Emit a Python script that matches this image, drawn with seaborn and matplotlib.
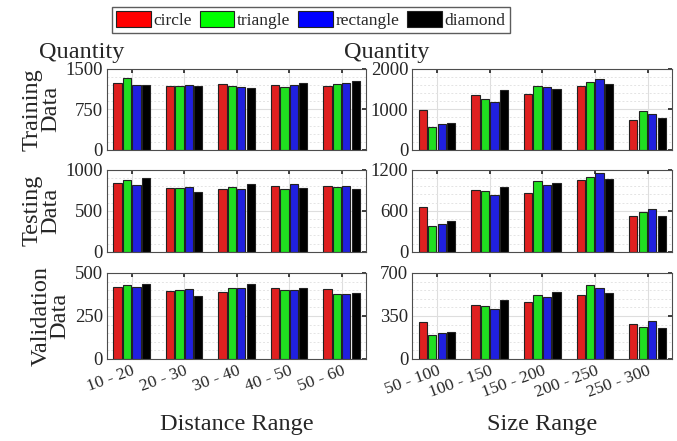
import pandas as pd
import matplotlib.pyplot as plt
import seaborn as sns
from matplotlib.ticker import AutoMinorLocator
from matplotlib.patches import Patch

# --- data ---
shapes = ['circle', 'triangle', 'rectangle', 'diamond']
colors = ['#ff0000', '#00ff00', '#0000ff', '#000000']
dist_labels = ['10 - 20', '20 - 30', '30 - 40', '40 - 50', '50 - 60']
size_labels = ['50 - 100', '100 - 150', '150 - 200', '200 - 250', '250 - 300']

# rows follow `shapes`, columns follow the range labels
train_dist = [[1235, 1175, 1220, 1205, 1190],
              [1325, 1190, 1175, 1155, 1220],
              [1205, 1205, 1155, 1205, 1240],
              [1205, 1190, 1145, 1230, 1270]]
test_dist = [[837, 776, 763, 804, 805],
             [873, 776, 788, 763, 790],
             [816, 796, 763, 829, 800],
             [898, 731, 829, 776, 765]]
val_dist = [[420, 395, 389, 414, 404],
            [432, 399, 414, 399, 377],
            [420, 405, 414, 399, 380],
            [434, 364, 438, 411, 383]]
train_size = [[975, 1358, 1383, 1567, 750],
              [567, 1267, 1567, 1667, 950],
              [642, 1192, 1542, 1742, 883],
              [667, 1475, 1500, 1633, 783]]
test_size = [[651, 901, 857, 1048, 519],
             [382, 887, 1033, 1097, 578],
             [411, 833, 980, 1151, 622],
             [451, 955, 1004, 1063, 519]]
val_size = [[300, 441, 463, 523, 286],
            [196, 430, 520, 602, 264],
            [212, 406, 507, 575, 308],
            [223, 479, 545, 537, 251]]

row_names = ['Training\nData', 'Testing\nData', 'Validation\nData']
ymax_dist = [1500, 1000, 500]
ymax_size = [2000, 1200, 700]

SERIF = 'Liberation Serif'


def to_long(values, labels):
    rows = []
    for s, vals in zip(shapes, values):
        for lab, v in zip(labels, vals):
            rows.append({'range': lab, 'shape': s, 'qty': v})
    return pd.DataFrame(rows)


sns.set_theme(style='white')
plt.rcParams['font.family'] = [SERIF, 'DejaVu Serif']
plt.rcParams['font.serif'] = [SERIF, 'DejaVu Serif']

fig = plt.figure(figsize=(6.77, 4.41), dpi=100)

# axes boxes in figure fractions (left col / right col, three rows)
row_boxes = [(0.660, 0.184), (0.429, 0.186), (0.186, 0.195)]
col_x = [(0.158, 0.383), (0.609, 0.384)]

panels = [(train_dist, train_size), (test_dist, test_size), (val_dist, val_size)]
gray = '#262626'

for r, (pd_dist, pd_size) in enumerate(panels):
    for c in range(2):
        x0, w = col_x[c]
        y0, h = row_boxes[r]
        ax = fig.add_axes([x0, y0, w, h])
        vals = pd_dist if c == 0 else pd_size
        labels = dist_labels if c == 0 else size_labels
        ymax = ymax_dist[r] if c == 0 else ymax_size[r]
        df = to_long(vals, labels)
        sns.barplot(data=df, x='range', y='qty', hue='shape', hue_order=shapes,
                    order=labels, palette=colors, width=0.72, gap=0.12,
                    edgecolor='#222222', linewidth=0.8, legend=False, ax=ax)
        ax.set_xlim(-0.47, 4.47)
        ax.set_ylim(0, ymax)
        ax.set_yticks([0, ymax / 2, ymax])
        ax.set_yticklabels([str(int(v)) for v in [0, ymax / 2, ymax]],
                           fontfamily=SERIF)
        ax.yaxis.set_minor_locator(AutoMinorLocator(5))
        ax.set_axisbelow(True)
        ax.grid(True, which='major', color='#dedede', lw=0.8, ls='-')
        ax.grid(True, which='minor', axis='y', color='#e4e4e4', lw=0.7, ls=(0, (2, 2)))
        ax.tick_params(axis='both', which='major', direction='in', length=3,
                       top=True, right=True, labelsize=13.5, colors=gray, pad=3)
        ax.tick_params(axis='y', which='minor', left=False, right=False)
        for sp in ax.spines.values():
            sp.set_color('#4d4d4d')
            sp.set_linewidth(0.8)
        ax.set_xlabel('')
        ax.set_ylabel('')
        if r < 2:
            ax.set_xticklabels([])
        else:
            ax.set_xticks(range(len(labels)))
            ax.set_xticklabels(labels, rotation=20, ha='right',
                               rotation_mode='anchor', fontsize=12.5,
                               fontfamily=SERIF)
            ax.set_xlabel('Distance Range' if c == 0 else 'Size Range',
                          fontsize=17.5, color=gray, fontfamily=SERIF)
            ax.xaxis.set_label_coords(0.5, -0.64)
        if c == 0:
            ax.set_ylabel(row_names[r], fontsize=17.5, color=gray,
                          linespacing=0.85, labelpad=3, fontfamily=SERIF)
        if r == 0:
            ax.text(-0.262, 1.07, 'Quantity', transform=ax.transAxes,
                    fontsize=17.5, color=gray, ha='left', va='bottom',
                    fontfamily=SERIF)

handles = [Patch(facecolor=col, edgecolor='#222222', lw=0.8, label=s)
           for s, col in zip(shapes, colors)]
fig.legend(handles=handles, loc='center', bbox_to_anchor=(0.459, 0.954),
           ncol=4, frameon=True, handlelength=2.0,
           handleheight=1.0, handletextpad=0.15, columnspacing=0.45,
           borderpad=0.25, fancybox=False, edgecolor='#333333',
           prop={'family': SERIF, 'size': 12.5})

fig.savefig('out.png', dpi=100)
